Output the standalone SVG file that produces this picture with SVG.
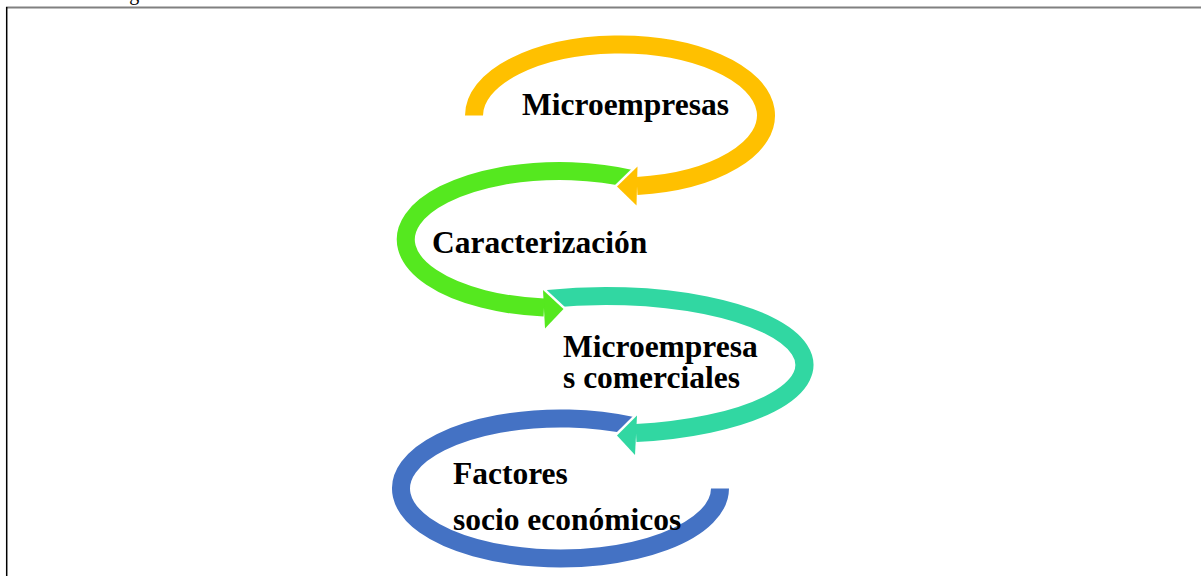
<svg xmlns="http://www.w3.org/2000/svg" width="1201" height="576" viewBox="0 0 1201 576">
  <style>
    .lbl { font-family: "Liberation Serif", "Times New Roman", serif; font-weight: bold; font-size: 31.5px; fill: #000; }
    .cap { font-family: "Liberation Serif", "Times New Roman", serif; font-size: 20px; fill: #000; }
    .shaft { fill: none; stroke-width: 18; stroke-linecap: butt; }
    .head { stroke: #fff; stroke-width: 5; stroke-linejoin: miter; paint-order: stroke; }
  </style>
  <rect x="0" y="0" width="1201" height="576" fill="#fff"/>
  <text class="cap" x="112.5" y="-0.5">Figura</text>
  <g id="frame">
    <line x1="6" y1="7.5" x2="1201" y2="7.5" stroke="#808080" stroke-width="2"/>
    <line x1="6.7" y1="7" x2="6.7" y2="576" stroke="#000" stroke-width="1.5"/>
  </g>
  <g id="connectors">
    <g id="arrow-blue">
      <path class="shaft" stroke="#4472C4" d="M632,425.9 A159.5,70 0 1 0 720,488.5"/>
    </g>
    <g id="arrow-teal">
      <polygon class="head" fill="#31D7A2" points="617,435.5 637,415.5 635,455"/>
      <path class="shaft" stroke="#31D7A2" d="M548,298.9 A198.5,69 0 1 1 636,433.1"/>
    </g>
    <g id="arrow-green">
      <polygon class="head" fill="#55E81F" points="563.5,309 543,290 545,328.5"/>
      <path class="shaft" stroke="#55E81F" d="M633,179.2 A154,68.5 0 1 0 544,307.6"/>
    </g>
    <g id="arrow-yellow">
      <polygon class="head" fill="#FFC000" points="617,186.5 637.5,166.5 636.5,205.5"/>
      <path class="shaft" stroke="#FFC000" d="M474,115.5 A146,71 0 1 1 637,186"/>
    </g>
  </g>
  <g id="node-microempresas">
    <text class="lbl" x="522" y="115">Microempresas</text>
  </g>
  <g id="node-caracterizacion">
    <text class="lbl" x="432" y="253">Caracterización</text>
  </g>
  <g id="node-microempresas-comerciales">
    <text class="lbl" x="563" y="357">Microempresa</text>
    <text class="lbl" x="563" y="388">s comerciales</text>
  </g>
  <g id="node-factores">
    <text class="lbl" x="453" y="484">Factores</text>
    <text class="lbl" x="453" y="530">socio económicos</text>
  </g>
</svg>
